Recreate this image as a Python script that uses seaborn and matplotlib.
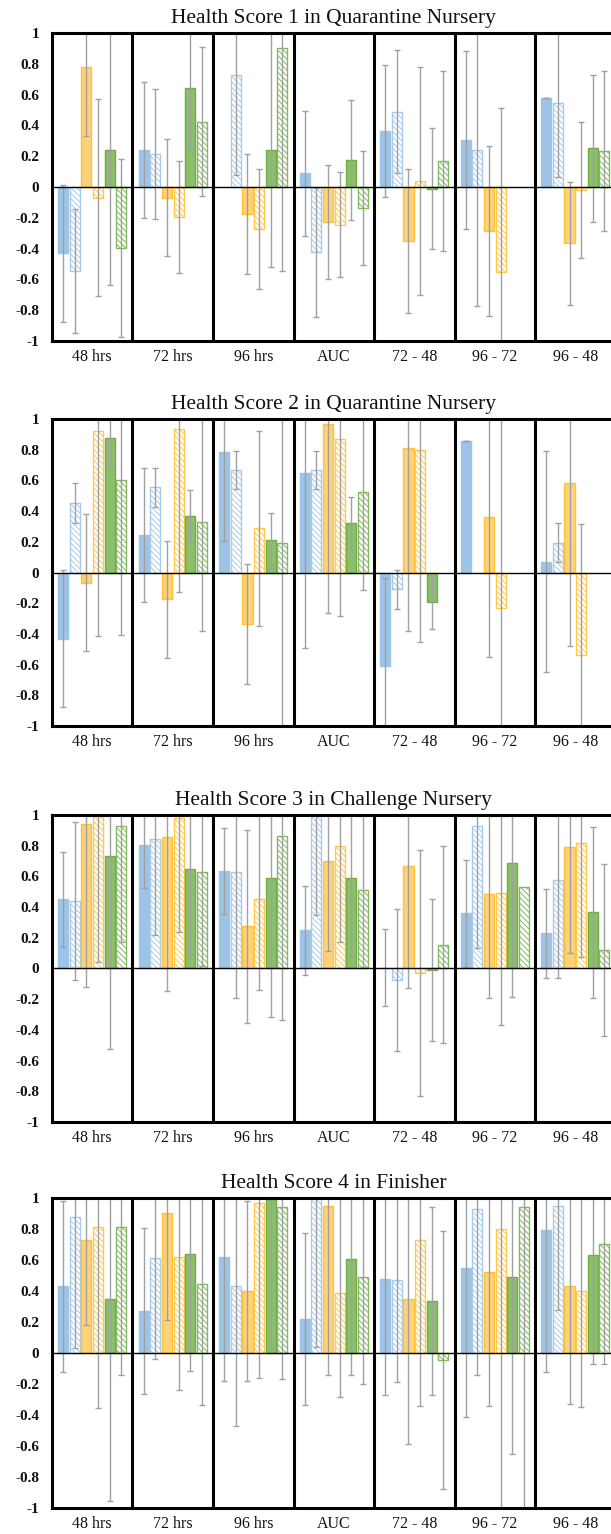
import numpy as np
import pandas as pd
import matplotlib
matplotlib.use('Agg')
import matplotlib.pyplot as plt
from matplotlib.container import BarContainer
import seaborn as sns

nan = np.nan

groups = ['48 hrs', '72 hrs', '96 hrs', 'AUC', '72 - 48', '96 - 72', '96 - 48']
series = ['Blue', 'Blue hatched', 'Orange', 'Orange hatched', 'Green', 'Green hatched']
titles = ['Health Score 1 in Quarantine Nursery',
          'Health Score 2 in Quarantine Nursery',
          'Health Score 3 in Challenge Nursery',
          'Health Score 4 in Finisher']
ytick_vals = [-1, -0.8, -0.6, -0.4, -0.2, 0, 0.2, 0.4, 0.6, 0.8, 1]
ytick_labels = ['-1', '-0.8', '-0.6', '-0.4', '-0.2', '0', '0.2', '0.4', '0.6', '0.8', '1']

# values: one list per series (rows) over the 7 groups
hs1_vals = [[-0.43, 0.24, nan, 0.09, 0.365, 0.305, 0.575],
            [-0.545, 0.215, 0.725, -0.425, 0.49, 0.24, 0.545],
            [0.78, -0.07, -0.175, -0.225, -0.35, -0.285, -0.365],
            [-0.07, -0.195, -0.275, -0.245, 0.04, -0.55, -0.02],
            [0.24, 0.645, 0.24, 0.175, -0.01, nan, 0.25],
            [-0.395, 0.425, 0.905, -0.135, 0.17, nan, 0.235]]
hs1_err = [[0.445, 0.44, nan, 0.405, 0.43, 0.575, 0.0],
           [0.405, 0.42, 0.65, 0.42, 0.40, 1.01, 0.48],
           [0.45, 0.38, 0.39, 0.37, 0.47, 0.55, 0.40],
           [0.64, 0.365, 0.39, 0.34, 0.74, 1.06, 0.44],
           [0.875, 0.39, 0.76, 0.39, 0.395, nan, 0.48],
           [0.58, 0.485, 1.45, 0.37, 0.585, nan, 0.52]]

hs2_vals = [[-0.43, 0.245, 0.785, 0.65, -0.61, 0.855, 0.07],
            [0.455, 0.555, 0.67, 0.67, -0.11, nan, 0.195],
            [-0.065, -0.175, -0.335, 0.965, 0.81, 0.365, 0.585],
            [0.925, 0.935, 0.29, 0.87, 0.80, -0.23, -0.535],
            [0.88, 0.37, 0.21, 0.32, -0.195, nan, nan],
            [0.605, 0.33, 0.19, 0.525, nan, nan, nan]]
hs2_err = [[0.445, 0.435, 0.58, 1.14, 0.575, 0.0, 0.72],
           [0.13, 0.125, 0.125, 0.125, 0.125, nan, 0.125],
           [0.445, 0.38, 0.39, 1.23, 1.19, 0.915, 1.065],
           [1.34, 1.06, 0.635, 1.15, 1.25, 1.3, 0.85],
           [0.17, 0.17, 0.18, 0.17, 0.175, nan, nan],
           [1.01, 0.71, 1.25, 0.64, nan, nan, nan]]

hs3_vals = [[0.45, 0.805, 0.635, 0.25, 0.005, 0.36, 0.23],
            [0.44, 0.845, 0.63, 0.995, -0.075, 0.93, 0.575],
            [0.94, 0.86, 0.275, 0.70, 0.665, 0.485, 0.79],
            [0.995, 0.98, 0.45, 0.795, -0.03, 0.495, 0.815],
            [0.735, 0.645, 0.59, 0.59, -0.01, 0.685, 0.365],
            [0.93, 0.63, 0.865, 0.51, 0.155, 0.53, 0.12]]
hs3_err = [[0.31, 0.28, 0.28, 0.29, 0.25, 0.35, 0.29],
           [0.515, 0.63, 0.82, 0.645, 0.46, 0.795, 0.64],
           [1.06, 1.005, 0.63, 0.585, 0.79, 0.675, 0.69],
           [0.955, 0.74, 0.59, 0.62, 0.80, 0.865, 0.74],
           [1.26, 0.56, 0.905, 0.51, 0.46, 0.87, 0.555],
           [0.76, 0.615, 1.2, 0.5, 0.64, nan, 0.56]]

hs4_vals = [[0.43, 0.27, 0.62, 0.22, 0.48, 0.545, 0.79],
            [0.88, 0.61, 0.43, 0.99, 0.47, 0.93, 0.945],
            [0.73, 0.905, 0.40, 0.945, 0.345, 0.52, 0.43],
            [0.81, 0.62, 0.97, 0.385, 0.73, 0.80, 0.40],
            [0.345, 0.635, 0.99, 0.605, 0.335, 0.49, 0.63],
            [0.81, 0.445, 0.94, 0.49, -0.045, 0.94, 0.705]]
hs4_err = [[0.55, 0.535, 0.80, 0.555, 0.75, 0.96, 0.91],
           [0.85, 0.65, 0.90, 0.95, 0.655, 1.075, 0.67],
           [0.55, 0.69, 0.58, 1.09, 0.93, 0.865, 0.76],
           [1.165, 0.86, 1.135, 0.67, 1.07, 1.9, 0.75],
           [1.30, 0.75, 0.965, 0.75, 0.605, 1.145, 0.70],
           [0.955, 0.78, 1.11, 0.69, 0.83, 2.0, 0.775]]

panels = [(hs1_vals, hs1_err), (hs2_vals, hs2_err), (hs3_vals, hs3_err), (hs4_vals, hs4_err)]

face_colors = ['#9DC3E6', 'white', '#FFD27A', 'white', '#8CBF6C', 'white']
edge_colors = ['#9DC3E6', '#A9CBEA', '#FFC233', '#FFC94D', '#70AD47', '#82B85E']
hatches = [None, '\\\\\\\\\\\\', None, '\\\\\\\\\\\\', None, '\\\\\\\\\\\\']

sns.set_theme(style='white')
plt.rcParams['font.family'] = ['Liberation Serif', 'DejaVu Serif']
plt.rcParams['hatch.linewidth'] = 0.7

fig = plt.figure(figsize=(6.11, 15.34), dpi=100)
# axes boxes (left, bottom, width, height); right side runs past the figure edge
boxes = [(0.0851, 0.7777, 0.9223, 0.2008),
         (0.0851, 0.5267, 0.9223, 0.2001),
         (0.0851, 0.2686, 0.9223, 0.2001),
         (0.0851, 0.0170, 0.9223, 0.2021)]

bar_width = 0.86
slot = bar_width / len(series)

for (vals, errs), box, title in zip(panels, boxes, titles):
    ax = fig.add_axes(box)
    rows = []
    for s, name in enumerate(series):
        for g, grp in enumerate(groups):
            rows.append({'group': grp, 'series': name, 'value': vals[s][g]})
    df = pd.DataFrame(rows).dropna()

    sns.barplot(data=df, x='group', y='value', hue='series', order=groups,
                hue_order=series, palette=face_colors[:1] * 6, width=bar_width,
                gap=0.13, errorbar=None, legend=False, ax=ax, zorder=2)

    bar_containers = [c for c in ax.containers if isinstance(c, BarContainer)]
    for cont in bar_containers:
        for bar in cont.patches:
            cx = bar.get_x() + bar.get_width() / 2
            g = int(round(cx))
            s = int(round((cx - g + bar_width / 2) / slot - 0.5))
            bar.set_facecolor(face_colors[s])
            bar.set_edgecolor(edge_colors[s])
            bar.set_linewidth(1.0)
            if hatches[s]:
                bar.set_hatch(hatches[s])
            e = errs[s][g]
            if not np.isnan(e):
                ax.errorbar(cx, vals[s][g], yerr=e, fmt='none', ecolor='#A0A0A0',
                            elinewidth=1.0, capsize=2.5, capthick=1.0, zorder=3)

    ax.axhline(0, color='black', lw=1.0, zorder=4)
    for i in range(len(groups) - 1):
        ax.axvline(i + 0.5, color='black', lw=2.2, zorder=5)

    ax.set_xlim(-0.5, len(groups) - 0.5)
    ax.set_ylim(-1, 1)
    ax.set_yticks(ytick_vals)
    ax.set_yticklabels(ytick_labels, fontsize=11, fontweight='bold')
    ax.set_xlabel('')
    ax.set_ylabel('')
    ax.tick_params(axis='both', length=0, colors='#111111')
    ax.tick_params(axis='x', pad=6, labelsize=11.5)
    ax.tick_params(axis='y', pad=9)
    for sp in ax.spines.values():
        sp.set_visible(True)
        sp.set_color('black')
        sp.set_linewidth(2.2)
        sp.set_zorder(6)
    ax.set_title(title, fontsize=15.5, pad=7, color='#111111')

fig.savefig('out.png', dpi=100)
